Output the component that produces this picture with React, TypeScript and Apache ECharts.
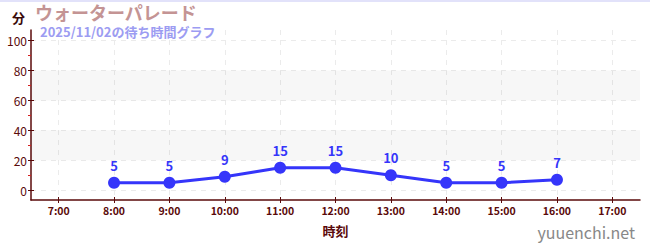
import React, { useEffect, useRef } from "react";
import * as echarts from "echarts";

// Hourly wait times (minutes)
const hours = [8, 9, 10, 11, 12, 13, 14, 15, 16];
const waits = [5, 5, 9, 15, 15, 10, 5, 5, 7];
const hourTicks = [7, 8, 9, 10, 11, 12, 13, 14, 15, 16, 17];
const yTicks = [0, 20, 40, 60, 80, 100];
const yMinorTicks = [10, 30, 50, 70, 90];
const shadedBands = [
  [20, 40],
  [60, 80],
];

const title = "ウォーターパレード";
const subtitle = "2025/11/02の待ち時間グラフ";
const yUnit = "分";
const xName = "時刻";
const site = "yuuenchi.net";

const FONT = '"Noto Sans CJK JP", "Noto Sans", sans-serif';
const AXIS_COLOR = "#5a0a0a";
const LINE_COLOR = "#3535fa";

const X_MIN = 6.5;
const X_MAX = 17.5;
const Y_MIN = -6.5;
const Y_MAX = 107;

export default function App() {
  const ref = useRef<HTMLDivElement>(null);

  useEffect(() => {
    if (!ref.current) return;
    const chart = echarts.init(ref.current, null, { renderer: "svg" });

    // Short tick marks drawn on the inner side of each axis line
    const innerX = {
      type: "value",
      min: X_MIN,
      max: X_MAX,
      position: "bottom",
      axisLine: { show: false, onZero: false },
      axisTick: { show: true, inside: true, customValues: hourTicks, length: 3, lineStyle: { color: AXIS_COLOR } },
      axisLabel: { show: false },
      splitLine: { show: false },
    };
    const innerY = {
      type: "value",
      min: Y_MIN,
      max: Y_MAX,
      position: "left",
      axisLine: { show: false },
      axisTick: { show: true, inside: true, customValues: yTicks, length: 3, lineStyle: { color: AXIS_COLOR } },
      axisLabel: { show: false },
      splitLine: { show: false },
    };

    chart.setOption({
      animation: false,
      textStyle: { fontFamily: FONT },
      grid: { left: 31, right: 10, top: 30, bottom: 50 },
      title: [
        {
          text: title,
          left: 35,
          top: 3,
          padding: 0,
          textStyle: { fontFamily: FONT, fontSize: 18, lineHeight: 18, fontWeight: "bold", color: "#c49494" },
        },
        {
          text: subtitle,
          left: 40,
          top: 24.5,
          padding: 0,
          textStyle: { fontFamily: FONT, fontSize: 13, lineHeight: 13, fontWeight: "bold", color: "#9c9cf2" },
        },
        {
          text: yUnit,
          left: 12,
          top: 10,
          padding: 0,
          textStyle: { fontFamily: FONT, fontSize: 13, lineHeight: 15, fontWeight: "bold", color: "#3a0a0a" },
        },
        {
          text: site,
          right: 15,
          top: 224,
          padding: 0,
          textStyle: { fontFamily: FONT, fontSize: 16, fontWeight: "normal", color: "#888888" },
        },
      ],
      xAxis: [
        {
          type: "value",
          min: X_MIN,
          max: X_MAX,
          name: xName,
          nameLocation: "middle",
          nameGap: 24,
          nameTextStyle: { fontFamily: FONT, fontSize: 13, fontWeight: "bold", color: AXIS_COLOR },
          axisLine: { show: true, onZero: false, lineStyle: { color: AXIS_COLOR, width: 1.5 } },
          axisTick: {
            show: true,
            customValues: hourTicks,
            length: 3,
            lineStyle: { color: AXIS_COLOR },
          },
          axisLabel: {
            customValues: hourTicks,
            formatter: (v: number) => `${v}:00`,
            fontFamily: FONT,
            fontSize: 10.5,
            fontWeight: "bold",
            color: AXIS_COLOR,
            margin: 5,
          },
          splitLine: { show: true, lineStyle: { color: "#ebebeb", type: [5, 5] } },
        },
        innerX,
      ],
      yAxis: [
        {
          type: "value",
          min: Y_MIN,
          max: Y_MAX,
          axisLine: { show: true, lineStyle: { color: AXIS_COLOR, width: 1.5 } },
          axisTick: {
            show: true,
            customValues: yTicks,
            length: 3,
            lineStyle: { color: AXIS_COLOR },
          },
          axisLabel: {
            customValues: yTicks,
            fontFamily: FONT,
            fontSize: 12,
            color: AXIS_COLOR,
            margin: 4,
          },
          splitLine: { show: true, lineStyle: { color: "#ebebeb", type: [5, 5] } },
        },
        {
          type: "value",
          min: Y_MIN,
          max: Y_MAX,
          position: "left",
          axisLine: { show: false },
          axisTick: {
            show: true,
            customValues: yMinorTicks,
            length: 3,
            lineStyle: { color: "#d42020" },
          },
          axisLabel: { show: false },
          splitLine: { show: false },
        },
        innerY,
      ],
      series: [
        {
          type: "line",
          data: hours.map((h, i) => [h, waits[i]]),
          symbol: "circle",
          symbolSize: 12,
          lineStyle: { color: LINE_COLOR, width: 3 },
          itemStyle: { color: LINE_COLOR },
          label: {
            show: true,
            position: "top",
            distance: 5,
            fontFamily: FONT,
            fontSize: 13,
            fontWeight: "bold",
            color: LINE_COLOR,
          },
          markArea: {
            silent: true,
            itemStyle: { color: "rgba(0,0,0,0.03)" },
            data: shadedBands.map(([a, b]) => [{ yAxis: a }, { yAxis: b }]),
          },
          z: 3,
        },
      ],
    });
    return () => chart.dispose();
  }, []);

  return (
    <div style={{ position: "absolute", left: 0, top: 0, width: 650, height: 250, background: "#fff" }}>
      <div style={{ position: "absolute", left: 0, top: 0, width: 650, height: 2, background: "#e2e2fa" }} />
      <div ref={ref} style={{ position: "absolute", left: 0, top: 0, width: 650, height: 250 }} />
    </div>
  );
}
